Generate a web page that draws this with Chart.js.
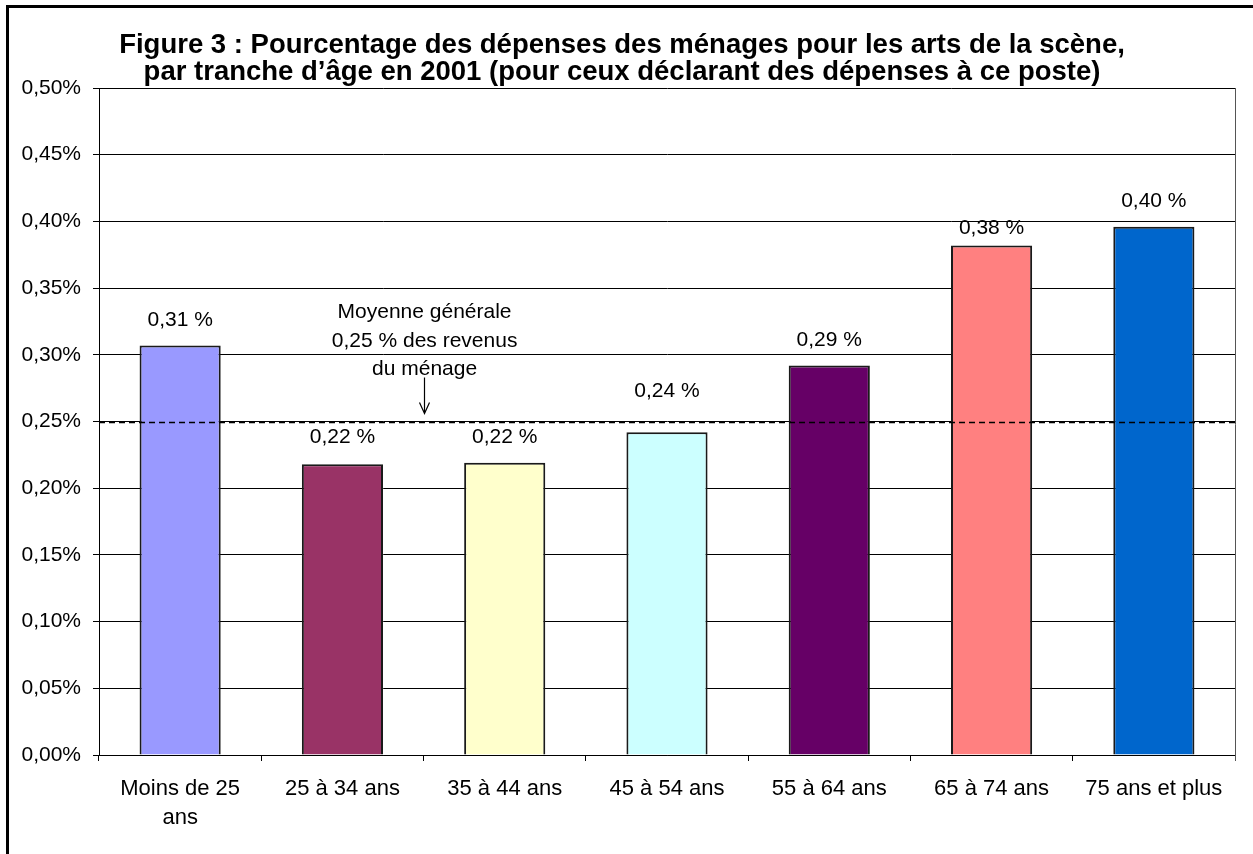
<!DOCTYPE html>
<html><head><meta charset="utf-8">
<script src="https://cdn.jsdelivr.net/npm/chart.js@4.4.1/dist/chart.umd.min.js"></script>
<style>html,body{margin:0;padding:0;background:#fff;overflow:hidden}#wrap{width:1253px;height:854px;position:relative}</style>
</head><body><div id="wrap"><canvas id="c" width="1253" height="854"></canvas></div>
<script>
const categories = [['Moins de 25', 'ans'], '25 à 34 ans', '35 à 44 ans', '45 à 54 ans', '55 à 64 ans', '65 à 74 ans', '75 ans et plus'];
const values = [0.307, 0.218, 0.219, 0.242, 0.292, 0.382, 0.396];
const valueLabels = ['0,31 %', '0,22 %', '0,22 %', '0,24 %', '0,29 %', '0,38 %', '0,40 %'];
const labelAnchors = [0.326, 0.238, 0.238, 0.273, 0.311, 0.395, 0.415];
const barColors = ['#9999FF', '#993366', '#FFFFCC', '#CCFFFF', '#660066', '#FF8080', '#0066CC'];
const yMin = 0, yMax = 0.5, yStep = 0.05;
const average = 0.25;
const titleLines = ['Figure 3 : Pourcentage des dépenses des ménages pour les arts de la scène,', 'par tranche d\u2019âge en 2001 (pour ceux déclarant des dépenses à ce poste)'];
const noteLines = ['Moyenne générale', '0,25 % des revenus', 'du ménage'];

const FONT = "'Liberation Sans', Arial, sans-serif";
Chart.defaults.font.family = FONT;
Chart.defaults.color = '#000';

const deco = {
  id: 'deco',
  beforeDraw(chart) {
    const ctx = chart.ctx;
    ctx.save();
    ctx.fillStyle = '#fff';
    ctx.fillRect(0, 0, chart.width, chart.height);
    ctx.restore();
  },
  afterDatasetsDraw(chart) {
    const { ctx, chartArea: a, scales: { x, y } } = chart;
    ctx.save();
    // plot area right border
    ctx.strokeStyle = '#555';
    ctx.lineWidth = 1;
    ctx.beginPath();
    ctx.moveTo(Math.round(a.right) + 0.5, a.top);
    ctx.lineTo(Math.round(a.right) + 0.5, a.bottom + 6);
    ctx.stroke();
    // average dashed line
    const ya = Math.round(y.getPixelForValue(average)) + 0.5;
    ctx.strokeStyle = '#000';
    ctx.lineWidth = 1.5;
    ctx.setLineDash([6, 4]);
    ctx.beginPath();
    ctx.moveTo(a.left, ya);
    ctx.lineTo(a.right, ya);
    ctx.stroke();
    ctx.setLineDash([]);
    // value labels
    ctx.fillStyle = '#000';
    ctx.font = '21px ' + FONT;
    ctx.textAlign = 'center';
    ctx.textBaseline = 'middle';
    valueLabels.forEach((t, i) => {
      ctx.fillText(t, x.getPixelForValue(i), y.getPixelForValue(labelAnchors[i]));
    });
    // note + arrow between 2nd and 3rd category
    const nx = (x.getPixelForValue(1) + x.getPixelForValue(2)) / 2;
    const lineTop = y.getPixelForValue(average) - 109;
    noteLines.forEach((t, i) => ctx.fillText(t, nx + 1, lineTop + i * 28.5));
    const ax = Math.round(nx) + 0.5;
    const tip = ya - 9;
    ctx.lineWidth = 1.2;
    ctx.beginPath();
    ctx.moveTo(ax, tip - 36);
    ctx.lineTo(ax, tip);
    ctx.moveTo(ax - 5, tip - 11);
    ctx.lineTo(ax, tip);
    ctx.lineTo(ax + 5, tip - 11);
    ctx.stroke();
    // title
    ctx.font = 'bold 27.5px ' + FONT;
    ctx.fillText(titleLines[0], 622, 45.5);
    ctx.fillText(titleLines[1], 622, 72.5);
    // outer frame
    ctx.strokeStyle = '#000';
    ctx.lineWidth = 3;
    ctx.beginPath();
    ctx.moveTo(7.5, chart.height + 5);
    ctx.lineTo(7.5, 6.5);
    ctx.lineTo(chart.width + 5, 6.5);
    ctx.stroke();
    ctx.restore();
  }
};

new Chart(document.getElementById('c'), {
  type: 'bar',
  data: {
    labels: categories,
    datasets: [{
      data: values,
      backgroundColor: barColors,
      borderColor: '#1a1a1a',
      borderWidth: 2,
      barPercentage: 0.5,
      categoryPercentage: 1
    }]
  },
  options: {
    responsive: false,
    animation: false,
    layout: { padding: { top: 88, right: 18, left: 0, bottom: 0 } },
    plugins: { legend: { display: false }, title: { display: false }, tooltip: { enabled: false } },
    scales: {
      x: {
        grid: { display: true, drawOnChartArea: false, drawTicks: true, tickLength: 6, color: '#000', offset: true },
        border: { display: true, color: '#000', width: 1 },
        ticks: { font: { size: 22, lineHeight: 1.32 }, color: '#000', padding: 13, maxRotation: 0, autoSkip: false },
        afterFit(s) { s.height = 99; }
      },
      y: {
        min: yMin, max: yMax,
        grid: { color: '#000', lineWidth: 1, tickLength: 6 },
        border: { display: true, color: '#000', width: 1 },
        ticks: {
          stepSize: yStep, font: { size: 21 }, color: '#000', padding: 12,
          callback: v => v.toFixed(2).replace('.', ',') + '%'
        },
        afterFit(s) { s.width = 99; }
      }
    }
  },
  plugins: [deco]
});
</script></body></html>
